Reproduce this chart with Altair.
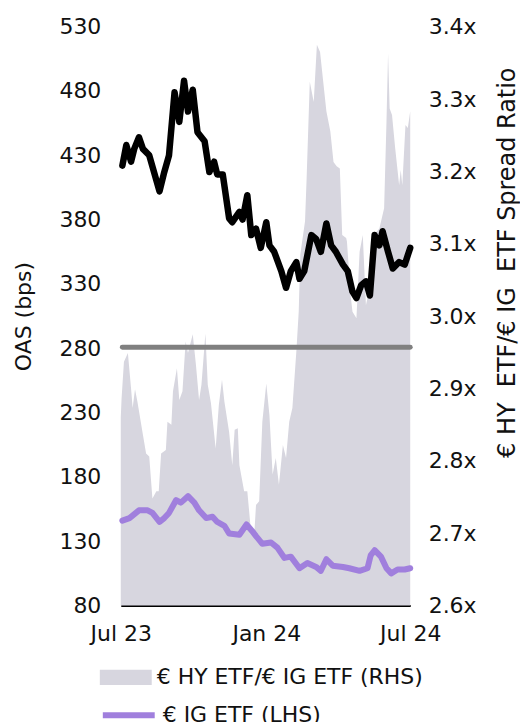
import altair as alt
import pandas as pd

# ---------------- data ----------------
hy_dates = ["2023-07-03", "2023-07-08", "2023-07-14", "2023-07-18", "2023-07-24", "2023-07-29",
            "2023-08-06", "2023-08-19", "2023-08-25", "2023-08-31", "2023-09-07", "2023-09-13",
            "2023-09-19", "2023-09-24", "2023-09-30", "2023-10-06", "2023-10-15", "2023-10-21",
            "2023-10-27", "2023-10-31", "2023-11-07", "2023-11-15", "2023-11-19", "2023-11-28",
            "2023-12-02", "2023-12-08", "2023-12-13", "2023-12-19", "2023-12-25", "2024-01-01",
            "2024-01-05", "2024-01-11", "2024-01-20", "2024-01-26", "2024-02-01", "2024-02-08",
            "2024-02-12", "2024-02-18", "2024-02-27", "2024-03-04", "2024-03-10", "2024-03-17",
            "2024-03-23", "2024-03-29", "2024-04-07", "2024-04-13", "2024-04-19", "2024-04-24",
            "2024-04-30", "2024-05-06", "2024-05-11", "2024-05-17", "2024-05-23", "2024-05-27",
            "2024-06-03", "2024-06-09", "2024-06-17", "2024-06-24", "2024-07-01"]
hy_values = [422, 438, 425, 435, 444, 435,
             430, 402, 417, 430, 479, 456,
             488, 464, 481, 448, 441, 417,
             425, 415, 415, 381, 378, 386,
             380, 399, 368, 373, 358, 378,
             360, 355, 340, 327, 340, 347,
             334, 340, 368, 365, 355, 377,
             360, 355, 345, 340, 324, 319,
             329, 332, 321, 368, 360, 371,
             355, 342, 347, 345, 358]

ig_dates = ["2023-07-03", "2023-07-12", "2023-07-24", "2023-08-04", "2023-08-10", "2023-08-19",
            "2023-08-25", "2023-08-31", "2023-09-09", "2023-09-15", "2023-09-24", "2023-10-02",
            "2023-10-08", "2023-10-17", "2023-10-25", "2023-10-31", "2023-11-09", "2023-11-15",
            "2023-11-28", "2023-12-07", "2023-12-14", "2023-12-19", "2023-12-27", "2024-01-07",
            "2024-01-15", "2024-01-24", "2024-02-01", "2024-02-12", "2024-02-22", "2024-03-04",
            "2024-03-10", "2024-03-17", "2024-03-25", "2024-04-07", "2024-04-15", "2024-04-28",
            "2024-05-08", "2024-05-12", "2024-05-17", "2024-05-25", "2024-06-01", "2024-06-07",
            "2024-06-15", "2024-06-24", "2024-07-01"]
ig_values = [146, 148, 154, 154, 152, 145,
             148, 152, 162, 160, 165, 160,
             154, 148, 149, 145, 142, 136,
             135, 143, 138, 134, 128, 129,
             125, 117, 118, 109, 113, 110,
             107, 116, 111, 110, 109, 107,
             109, 119, 123, 118, 109, 105,
             108, 108, 109]

ratio_dates = ["2023-07-01", "2023-07-02", "2023-07-05", "2023-07-10", "2023-07-14", "2023-07-16",
               "2023-07-19", "2023-07-22", "2023-07-29", "2023-08-02", "2023-08-06", "2023-08-10",
               "2023-08-15", "2023-08-18", "2023-08-21", "2023-08-27", "2023-08-29", "2023-09-03",
               "2023-09-05", "2023-09-10", "2023-09-13", "2023-09-17", "2023-09-21", "2023-09-24",
               "2023-09-30", "2023-10-04", "2023-10-08", "2023-10-11", "2023-10-16", "2023-10-19",
               "2023-10-23", "2023-10-29", "2023-11-02", "2023-11-06", "2023-11-09", "2023-11-15",
               "2023-11-19", "2023-11-22", "2023-11-26", "2023-11-28", "2023-12-04", "2023-12-08",
               "2023-12-13", "2023-12-17", "2023-12-19", "2023-12-23", "2023-12-27", "2024-01-01",
               "2024-01-05", "2024-01-09", "2024-01-13", "2024-01-17", "2024-01-22", "2024-01-26",
               "2024-01-30", "2024-02-03", "2024-02-08", "2024-02-11", "2024-02-13", "2024-02-19",
               "2024-02-21", "2024-02-25", "2024-03-01", "2024-03-05", "2024-03-09", "2024-03-13",
               "2024-03-17", "2024-03-22", "2024-03-26", "2024-03-30", "2024-04-03", "2024-04-06",
               "2024-04-11", "2024-04-12", "2024-04-17", "2024-04-19", "2024-04-24", "2024-04-28",
               "2024-05-02", "2024-05-06", "2024-05-08", "2024-05-12", "2024-05-16", "2024-05-23",
               "2024-05-29", "2024-06-01", "2024-06-03", "2024-06-05", "2024-06-08", "2024-06-12",
               "2024-06-17", "2024-06-19", "2024-06-21", "2024-06-25", "2024-06-28", "2024-07-01"]
ratio_values = [2.86, 2.886, 2.937, 2.949, 2.900, 2.873,
                2.899, 2.882, 2.836, 2.810, 2.806, 2.748,
                2.758, 2.758, 2.810, 2.815, 2.854, 2.850,
                2.896, 2.928, 2.884, 2.896, 2.965, 2.949,
                2.975, 2.933, 2.884, 2.905, 2.976, 2.905,
                2.880, 2.817, 2.877, 2.912, 2.882, 2.840,
                2.794, 2.843, 2.845, 2.794, 2.758, 2.758,
                2.698, 2.702, 2.739, 2.744, 2.854, 2.907,
                2.863, 2.781, 2.804, 2.767, 2.822, 2.804,
                2.854, 2.873, 2.951, 3.006, 3.085, 3.131,
                3.190, 3.324, 3.296, 3.375, 3.365, 3.324,
                3.283, 3.255, 3.213, 3.207, 3.204, 3.112,
                3.108, 3.103, 3.025, 3.006, 2.997, 3.089,
                3.112, 3.015, 3.025, 3.085, 3.112, 3.121,
                3.149, 3.269, 3.363, 3.287, 3.278, 3.232,
                3.181, 3.202, 3.181, 3.264, 3.260, 3.283]

avg_ratio = 2.957
avg_start = "2023-07-03"
avg_end = "2024-07-01"

ratio_label = "€ HY ETF/€ IG ETF (RHS)"
ig_label = "€ IG ETF (LHS)"
hy_label = "€ HY ETF (LHS)"
rhs_title = "€ HY\u00a0 ETF/€ IG\u00a0 ETF Spread Ratio"

lhs_ticks = [80, 130, 180, 230, 280, 330, 380, 430, 480, 530]
rhs_ticks = [2.6, 2.7, 2.8, 2.9, 3.0, 3.1, 3.2, 3.3, 3.4]

# ---------------- tables ----------------
hy_df = pd.DataFrame({"date": hy_dates, "oas": hy_values, "series": hy_label})
ig_df = pd.DataFrame({"date": ig_dates, "oas": ig_values, "series": ig_label})
ratio_df = pd.DataFrame({"date": ratio_dates, "ratio": ratio_values, "series": ratio_label})
avg_df = pd.DataFrame({"start": [avg_start], "end": [avg_end], "ratio": [avg_ratio]})

FONT = "DejaVu Sans"
FS = 22
TXT = "#111111"
GREY_AREA = "#d7d6df"
PURPLE = "#a07fdd"

def dt(y, m, d):
    return alt.DateTime(year=y, month=m, date=d, utc=True)

x_scale = alt.Scale(type="utc", domain=[dt(2023, 7, 1), dt(2024, 7, 1)])

x_enc = alt.X(
    "date:T",
    scale=x_scale,
    axis=alt.Axis(values=[dt(2023, 7, 1), dt(2024, 1, 1), dt(2024, 7, 1)],
                  format="%b %y", title=None, grid=False, ticks=False,
                  domainColor="#000000", domainWidth=2, labelPadding=18,
                  labelOverlap=False, labelFlush=False),
)

y_left = alt.Y(
    "oas:Q",
    scale=alt.Scale(domain=[80, 530], nice=False, zero=False),
    axis=alt.Axis(orient="left", values=lhs_ticks, title="OAS (bps)", grid=False,
                  ticks=False, domain=False, labelPadding=20, titlePadding=23),
)

y_right = alt.Y(
    "ratio:Q",
    scale=alt.Scale(domain=[2.6, 3.4], nice=False, zero=False),
    axis=alt.Axis(orient="right", values=rhs_ticks,
                  labelExpr="format(datum.value, '.1f') + 'x'",
                  title=rhs_title, titleAngle=270, titleFontSize=24, titleY=236,
                  grid=False, ticks=False, domain=False, labelPadding=18, titlePadding=43),
)

area = alt.Chart(ratio_df).mark_area(interpolate="linear").encode(
    x=x_enc,
    y=y_right,
    y2=alt.datum(2.6),
    fill=alt.Fill("series:N",
                  scale=alt.Scale(domain=[ratio_label], range=[GREY_AREA]),
                  legend=alt.Legend(title=None, orient="none", legendX=-21, legendY=626,
                                    symbolType="M-1,-0.29H1V0.29H-1Z", symbolSize=2704,
                                    symbolStrokeWidth=0, symbolOpacity=1,
                                    labelOffset=5, padding=0)),
)

avg_rule = alt.Chart(avg_df).mark_rule(color="#808080", strokeWidth=5, strokeCap="round").encode(
    x=alt.X("start:T", scale=x_scale),
    x2="end:T",
    y=y_right,
)

ig_line = alt.Chart(ig_df).mark_line(strokeWidth=6, strokeCap="round", strokeJoin="round").encode(
    x=x_enc,
    y=y_left,
    stroke=alt.Stroke("series:N",
                      scale=alt.Scale(domain=[ig_label], range=[PURPLE]),
                      legend=alt.Legend(title=None, orient="none", legendX=-21, legendY=661,
                                        symbolType="stroke", symbolSize=2704,
                                        symbolStrokeWidth=6, labelOffset=5, padding=0)),
)

hy_line = alt.Chart(hy_df).mark_line(color="#000000", strokeWidth=6.5,
                                     strokeCap="round", strokeJoin="round").encode(
    x=x_enc,
    y=y_left,
)

right = alt.layer(area, avg_rule)
left = alt.layer(ig_line, hy_line)

chart = alt.layer(right, left).resolve_scale(y="independent").properties(
    width=290, height=580,
    padding={"left": 5, "top": 7, "right": 0, "bottom": 0},
).configure_view(stroke=None).configure_axis(
    labelFont=FONT, titleFont=FONT, labelFontSize=FS, titleFontSize=FS,
    titleFontWeight="normal", labelColor=TXT, titleColor=TXT,
).configure_legend(
    labelFont=FONT, labelFontSize=FS, labelColor=TXT, labelLimit=0,
)

chart.save("out.html", embed_options={"renderer": "svg", "actions": False})
